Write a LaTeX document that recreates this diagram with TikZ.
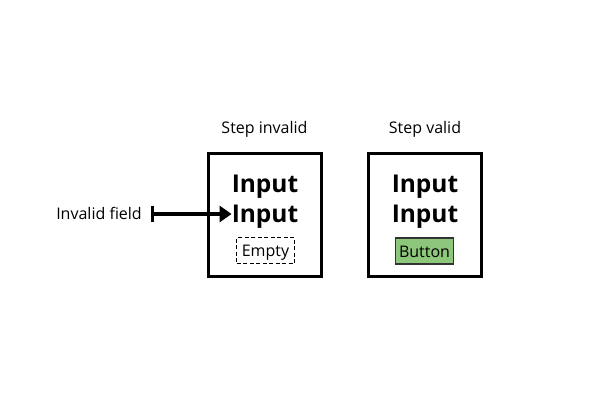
\documentclass[tikz,border=0pt]{standalone}
\usepackage{fontspec}
\setmainfont{Open Sans}
\usetikzlibrary{arrows.meta,positioning}
\definecolor{btngreen}{HTML}{8DC77B}
\tikzset{
  stepbox/.style={draw,line width=3pt,minimum width=113pt,minimum height=123pt,inner sep=0pt},
  inputtext/.style={font=\fontsize{24.5}{28}\selectfont\bfseries,inner sep=0pt,anchor=base},
  smalltext/.style={font=\fontsize{16}{19}\selectfont,inner sep=0pt,anchor=base},
  fieldbox/.style={font=\fontsize{16}{19}\selectfont,inner sep=0pt,minimum width=58pt,minimum height=26pt,text height=12pt,text depth=0pt},
}

\begin{document}
\begin{tikzpicture}[x=1pt,y=-1pt]
\useasboundingbox (0,0) rectangle (600,400);
\node[stepbox] (invalid) at (265,215) {};
\node[stepbox] (valid) at (425,215) {};
\node[smalltext] (invlabel) at (264.5,133) {Step invalid};
\node[smalltext] (vallabel) at (425,133) {Step valid};
\node[inputtext] (in1) at (265,192) {Input};
\node[inputtext] (in2) at (265,222) {Input};
\node[inputtext] (vin1) at (425,192) {Input};
\node[inputtext] (vin2) at (425,222) {Input};
\node[fieldbox,draw,dash pattern=on 4pt off 2.5pt,line width=1.5pt] (empty) at (265.5,250.5) {Empty};
\node[fieldbox,draw=black!80,fill=btngreen,line width=1.3pt] (button) at (424.5,251) {Button};
\node[smalltext,anchor=base east] (field) at (142,219.5) {Invalid field};
\coordinate (start) at (150.5,214);
\draw[line width=4pt,{Bar[width=16pt,line width=3.5pt]}-{Triangle[length=12pt,width=16pt]}] (start) -- (start -| in2.west);
\end{tikzpicture}
\end{document}
